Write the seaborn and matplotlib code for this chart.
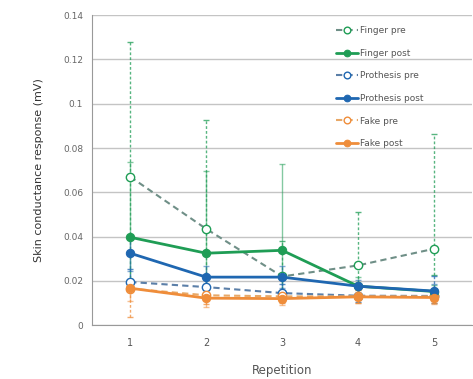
import matplotlib
matplotlib.use("Agg")
import matplotlib.pyplot as plt
import seaborn as sns

# data
repetition = [1, 2, 3, 4, 5]
finger_pre = [0.067, 0.0435, 0.022, 0.027, 0.0345]
finger_pre_up = [0.061, 0.049, 0.016, 0.024, 0.052]
finger_pre_low = [0.05, 0.025, 0.008, 0.01, 0.012]
finger_post = [0.0397, 0.0325, 0.0338, 0.0176, 0.0152]
finger_post_up = [0.034, 0.037, 0.039, 0.004, 0.003]
finger_post_low = [0.02, 0.02, 0.02, 0.004, 0.003]
prosthesis_pre = [0.0195, 0.0172, 0.0145, 0.0133, 0.0132]
prosthesis_pre_up = [0.006, 0.004, 0.004, 0.003, 0.009]
prosthesis_pre_low = [0.004, 0.003, 0.003, 0.003, 0.003]
prosthesis_post = [0.0325, 0.0217, 0.0217, 0.0176, 0.0154]
prosthesis_post_up = [0.008, 0.005, 0.005, 0.003, 0.003]
prosthesis_post_low = [0.008, 0.005, 0.005, 0.003, 0.003]
fake_pre = [0.0165, 0.0135, 0.013, 0.013, 0.013]
fake_pre_up = [0.004, 0.003, 0.003, 0.003, 0.003]
fake_pre_low = [0.013, 0.004, 0.003, 0.003, 0.003]
fake_post = [0.0167, 0.0122, 0.012, 0.0128, 0.0125]
fake_post_up = [0.004, 0.003, 0.003, 0.003, 0.003]
fake_post_low = [0.006, 0.004, 0.003, 0.003, 0.003]

green = "#1f9d55"
blue = "#1f67b1"
orange = "#ef8d3a"

sns.set_style("white")
plt.rcParams["font.family"] = ["DejaVu Sans"]

fig = plt.figure(figsize=(4.73, 3.79), dpi=100)
ax = fig.add_axes([0.195, 0.142, 0.803, 0.818])

series = [
    ("Finger pre", finger_pre, finger_pre_low, finger_pre_up, green, "#6f8f87", True),
    ("Finger post", finger_post, finger_post_low, finger_post_up, green, green, False),
    ("Prothesis pre", prosthesis_pre, prosthesis_pre_low, prosthesis_pre_up, blue, "#5b7fa8", True),
    ("Prothesis post", prosthesis_post, prosthesis_post_low, prosthesis_post_up, blue, blue, False),
    ("Fake pre", fake_pre, fake_pre_low, fake_pre_up, orange, "#e8a866", True),
    ("Fake post", fake_post, fake_post_low, fake_post_up, orange, orange, False),
]

for name, vals, lo, up, col, lcol, pre in series:
    eb = ax.errorbar(repetition, vals, yerr=[lo, up], fmt="none", ecolor=col,
                     elinewidth=1.0, capsize=2.2, alpha=0.75 if pre else 0.55,
                     zorder=2)
    if pre:
        for c in eb[2]:
            c.set_linestyle((0, (2, 1.5)))
        sns.lineplot(x=repetition, y=vals, ax=ax, color=lcol,
                     linestyle=(0, (3, 2)), linewidth=1.5, marker="o",
                     markersize=6, markerfacecolor="white", markeredgecolor=col,
                     markeredgewidth=1.0, label=name, zorder=3)
    else:
        sns.lineplot(x=repetition, y=vals, ax=ax, color=col, linewidth=2.0,
                     marker="o", markersize=6, markerfacecolor=col,
                     markeredgecolor=col, label=name, zorder=4)

ax.set_xlim(0.5, 5.5)
ax.set_ylim(0, 0.14)
ax.set_yticks([0, 0.02, 0.04, 0.06, 0.08, 0.1, 0.12, 0.14])
ax.set_yticklabels(["0", "0.02", "0.04", "0.06", "0.08", "0.1", "0.12", "0.14"])
ax.set_xticks(repetition)
ax.set_xticks([0.5, 1.5, 2.5, 3.5, 4.5, 5.5], minor=True)
ax.tick_params(axis="x", which="major", length=0, labelsize=7, colors="#555555", pad=9)
ax.tick_params(axis="x", which="minor", length=3, color="#999999", direction="out")
ax.tick_params(axis="y", length=3, color="#999999", labelsize=6.5, labelcolor="#666666", direction="out")
ax.grid(axis="y", color="#c4c4c4", linewidth=1.0)
ax.set_axisbelow(True)
for s in ["top", "right"]:
    ax.spines[s].set_visible(False)
ax.spines["left"].set_color("#999999")
ax.spines["bottom"].set_color("#999999")

ax.set_xlabel("Repetition", fontsize=8.5, color="#555555", labelpad=12)
ax.set_ylabel("Skin conductance response (mV)", fontsize=8, color="#333333", labelpad=14)

leg = ax.legend(loc="upper left", bbox_to_anchor=(0.62, 0.99), frameon=False,
                fontsize=6.5, labelspacing=1.5, handlelength=2.4,
                handletextpad=0.3, markerscale=0.8)
for t in leg.get_texts():
    t.set_color("#555555")

fig.savefig("out.png", dpi=100)
